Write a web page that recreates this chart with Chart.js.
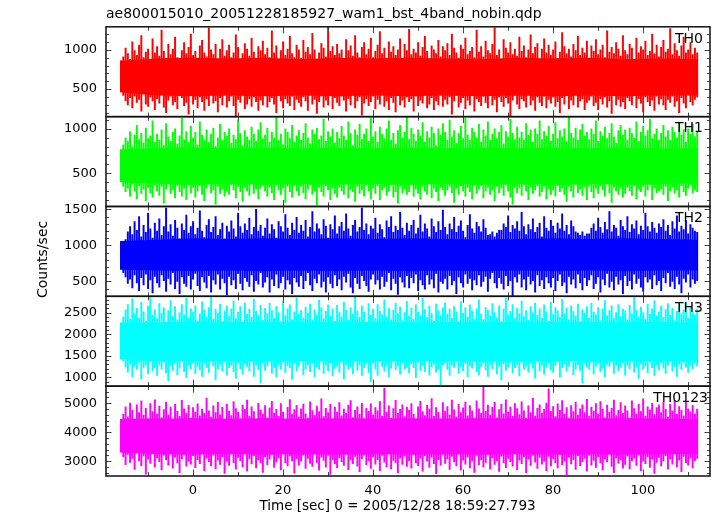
<!DOCTYPE html>
<html>
<head>
<meta charset="utf-8">
<title>ae800015010 wam1 bst 4band light curve</title>
<script src="https://cdn.jsdelivr.net/npm/chart.js@4.4.1/dist/chart.umd.min.js"></script>
<style>
  html, body { margin: 0; padding: 0; background: #fff; }
</style>
</head>
<body>
<canvas id="lc" width="717" height="516"></canvas>
<script>
const plotTitle = 'ae800015010_20051228185927_wam1_bst_4band_nobin.qdp';
const xTitle = 'Time [sec] 0 = 2005/12/28 18:59:27.793';
const yTitle = 'Counts/sec';
const timeTicks = [0, 20, 40, 60, 80, 100];

const bands = ['TH0', 'TH1', 'TH2', 'TH3', 'TH0123'];
const bandColors = ['#ff0000', '#00ff00', '#0000ff', '#00ffff', '#ff00ff'];

// light curve read as the highest and lowest rate in each 0.5 s column,
// first column starting at t = -16.2 s
const startTime = -16.2;
const sampleStep = 0.5;

const th0Hi = [
  860, 910, 1020, 950, 880, 1100, 990, 930, 1060, 1180, 900, 970, 1010, 870, 1140, 960,
  1040, 920, 1250, 980, 890, 1070, 940, 1010, 1160, 900, 850, 990, 1090, 950, 1030, 1200,
  930, 980, 880, 1050, 1120, 960, 910, 1280, 1000, 940, 1070, 870, 1010, 1130, 920, 990,
  1060, 900, 960, 1190, 1030, 880, 950, 1080, 1010, 920, 1150, 970, 860, 1040, 990, 1110,
  940, 1020, 900, 1240, 960, 1050, 880, 990, 1100, 930, 1010, 1170, 950, 900, 1060, 1000,
  890, 1120, 970, 1030, 940, 1210, 1000, 880, 960, 1080, 1020, 910, 1290, 980, 1040, 930,
  1070, 950, 1000, 870, 1130, 990, 1050, 920, 1180, 960, 900, 1030, 1090, 940, 1010, 1150,
  900, 980, 1060, 1230, 950, 1020, 890, 1100, 970, 1040, 930, 1000, 1140, 880, 1070, 990,
  1260, 940, 1010, 960, 1090, 920, 1030, 1170, 980, 870, 1050, 1000, 950, 1120, 910, 1040,
  990, 1080, 930, 1200, 1020, 960, 890, 1060, 1010, 1150, 940, 980, 1030, 900, 1250, 970,
  1040, 910, 1110, 990, 950, 1070, 1280, 930, 1000, 880, 1130, 1020, 960, 1090, 940, 1010,
  920, 1160, 980, 1050, 900, 1000, 1190, 950, 1030, 1080, 870, 1010, 1140, 960, 1060, 930,
  1000, 1100, 890, 970, 1220, 1040, 950, 1010, 910, 1070, 990, 1170, 930, 1020, 960, 1110,
  880, 1050, 980, 1130, 940, 1000, 1060, 900, 1240, 970, 1030, 950, 1090, 1010, 920, 1180,
  990, 940, 1070, 1020, 880, 1150, 960, 1040, 1000, 1110, 930, 980, 1200, 950, 1060, 910,
  1030, 1120, 970, 1010, 1270, 940, 1080, 990, 920, 1050, 1160, 960, 1000, 1090, 940, 1020,
  960
];
const th0Lo = [
  480, 420, 350, 300, 390, 260, 410, 330, 370, 220, 440, 310, 280, 400, 350, 240,
  380, 320, 430, 270, 200, 360, 410, 300, 340, 250, 450, 390, 290, 330, 180, 420,
  310, 370, 260, 400, 340, 230, 380, 290, 430, 320, 350, 210, 390, 300, 440, 270,
  350, 410, 290, 160, 370, 330, 420, 250, 310, 380, 280, 400, 340, 230, 360, 300,
  420, 270, 340, 390, 310, 200, 440, 350, 260, 380, 320, 290, 410, 240, 370, 330,
  280, 400, 350, 230, 430, 310, 370, 190, 340, 410, 270, 360, 300, 420, 250, 390,
  330, 290, 410, 360, 220, 380, 300, 440, 260, 350, 400, 170, 320, 380, 290, 340,
  410, 250, 370, 310, 430, 280, 350, 240, 390, 330, 210, 420, 300, 360, 270, 400,
  340, 380, 220, 410, 290, 360, 320, 430, 260, 310, 390, 240, 350, 300, 440, 280,
  370, 310, 400, 180, 350, 420, 270, 330, 390, 250, 360, 300, 430, 220, 380, 340,
  290, 410, 330, 260, 440, 300, 370, 210, 400, 340, 280, 390, 320, 150, 360, 420,
  310, 250, 380, 350, 270, 430, 300, 360, 230, 400, 330, 290, 410, 260, 370, 320,
  400, 280, 340, 200, 390, 310, 420, 250, 360, 300, 430, 270, 350, 380, 240, 330,
  360, 410, 290, 330, 240, 380, 310, 400, 270, 350, 190, 420, 300, 370, 280, 340,
  250, 390, 350, 300, 420, 260, 380, 320, 210, 400, 340, 290, 360, 230, 410, 310,
  380, 300, 240, 370, 330, 410, 280, 350, 200, 390, 320, 260, 430, 340, 300, 370,
  400
];

const th1Hi = [
  760, 820, 900, 860, 970, 800, 930, 1040, 880, 950, 840, 1010, 890, 920, 1090, 850,
  940, 870, 990, 810, 1060, 910, 860, 960, 1000, 830, 920, 1120, 880, 970, 850, 1030,
  900, 960, 820, 1080, 930, 870, 990, 850, 940, 1010, 800, 900, 1050, 870, 960, 920,
  1000, 840, 930, 880, 1100, 950, 810, 980, 910, 870, 1020, 940, 860, 990, 1070, 890,
  930, 1010, 850, 960, 900, 1130, 870, 940, 820, 1000, 960, 890, 1040, 850, 920, 980,
  870, 950, 1060, 900, 830, 990, 940, 1010, 880, 920, 1110, 860, 970, 910, 1000, 840,
  960, 890, 1030, 920, 870, 1080, 950, 810, 990, 930, 1050, 880, 940, 1000, 860, 1120,
  910, 970, 850, 1020, 940, 890, 1000, 1090, 870, 950, 830, 980, 1040, 900, 960, 1130,
  880, 1010, 940, 860, 990, 920, 1070, 850, 970, 900, 1020, 950, 810, 1000, 930, 1060,
  960, 870, 1100, 910, 980, 840, 950, 1030, 890, 1120, 930, 870, 1010, 960, 900, 1050,
  850, 990, 920, 1080, 870, 940, 1000, 890, 960, 1040, 830, 970, 910, 1110, 950, 880,
  1020, 900, 960, 870, 1060, 930, 990, 850, 1000, 940, 1090, 880, 970, 920, 1030, 860,
  940, 1070, 890, 980, 910, 1000, 860, 1130, 950, 900, 1010, 870, 990, 1050, 920, 960,
  880, 1000, 940, 1090, 860, 970, 920, 1020, 890, 950, 1060, 910, 840, 980, 1040, 930,
  990, 870, 1010, 950, 900, 1080, 860, 960, 1030, 920, 980, 1110, 890, 940, 1000, 870,
  950, 1040, 910, 980, 870, 1020, 960, 900, 1070, 930, 990, 850, 1000, 940, 1050, 910,
  960
];
const th1Lo = [
  420, 350, 290, 330, 240, 380, 300, 210, 360, 270, 320, 190, 340, 280, 230, 370,
  300, 250, 350, 160, 320, 380, 270, 310, 220, 360, 290, 240, 330, 200, 370, 280,
  340, 230, 300, 360, 260, 190, 330, 380, 280, 310, 150, 350, 270, 320, 240, 300,
  260, 370, 310, 220, 350, 290, 180, 340, 300, 250, 380, 270, 320, 210, 330, 360,
  300, 240, 340, 280, 200, 370, 310, 260, 330, 170, 350, 290, 230, 360, 300, 250,
  350, 280, 210, 320, 370, 260, 300, 140, 340, 290, 240, 360, 310, 200, 330, 270,
  230, 340, 300, 260, 380, 220, 320, 290, 180, 350, 270, 310, 240, 370, 300, 210,
  330, 270, 360, 200, 310, 340, 250, 300, 370, 230, 290, 160, 350, 280, 320, 260,
  290, 370, 240, 320, 270, 210, 350, 300, 260, 380, 220, 330, 290, 190, 340, 310,
  250, 310, 350, 280, 170, 330, 260, 360, 300, 240, 340, 290, 210, 370, 270, 320,
  360, 220, 300, 340, 260, 310, 190, 350, 280, 330, 250, 370, 300, 230, 150, 340,
  280, 330, 250, 370, 300, 200, 340, 270, 310, 360, 240, 290, 350, 210, 320, 260,
  310, 240, 360, 290, 330, 260, 180, 350, 300, 230, 370, 280, 320, 250, 340, 200,
  350, 290, 220, 330, 270, 360, 310, 240, 380, 280, 170, 340, 300, 260, 330, 230,
  270, 340, 300, 250, 360, 210, 320, 290, 350, 240, 310, 370, 200, 330, 280, 300,
  320, 260, 350, 190, 300, 340, 270, 310, 230, 360, 290, 250, 330, 370, 280, 310,
  290
];

const th2Hi = [
  1000, 1050, 1080, 1190, 1260, 1150, 1330, 1210, 1400, 1120, 1280, 1180, 1450, 1230, 1100, 1310,
  1200, 1370, 1140, 1260, 1520, 1190, 1290, 1130, 1350, 1240, 1090, 1300, 1210, 1420, 1170, 1260,
  1330, 1150, 1240, 1480, 1200, 1110, 1280, 1360, 1180, 1250, 1400, 1140, 1220, 1310, 1090, 1270,
  1190, 1340, 1230, 1120, 1450, 1260, 1170, 1300, 1210, 1380, 1150, 1250, 1500, 1200, 1280, 1130,
  1240, 1370, 1160, 1290, 1220, 1100, 1330, 1260, 1190, 1430, 1240, 1140, 1310, 1210, 1390, 1170,
  1280, 1200, 1350, 1120, 1250, 1470, 1190, 1300, 1230, 1150, 1360, 1270, 1100, 1290, 1220, 1410,
  1160, 1260, 1320, 1200, 1440, 1230, 1130, 1280, 1350, 1190, 1250, 1520, 1210, 1300, 1150, 1270,
  1230, 1380, 1170, 1290, 1220, 1110, 1340, 1250, 1400, 1180, 1270, 1210, 1460, 1240, 1140, 1310,
  1200, 1280, 1350, 1160, 1240, 1420, 1190, 1300, 1230, 1120, 1370, 1260, 1180, 1330, 1210, 1490,
  1250, 1150, 1300, 1220, 1390, 1180, 1270, 1340, 1200, 1110, 1280, 1430, 1230, 1170, 1320, 1260,
  1190, 1360, 1240, 1140, 1150, 1190, 1120, 1170, 1210, 1210, 1300, 1250, 1410, 1180, 1280, 1230,
  1330, 1200, 1460, 1260, 1150, 1290, 1220, 1370, 1180, 1250, 1310, 1120, 1400, 1240, 1200, 1350,
  1270, 1170, 1310, 1230, 1440, 1200, 1280, 1150, 1340, 1260, 1190, 1170, 1140, 1190, 1130, 1160,
  1160, 1240, 1300, 1200, 1380, 1250, 1170, 1320, 1220, 1470, 1190, 1280, 1240, 1130, 1350, 1260,
  1210, 1400, 1180, 1290, 1230, 1340, 1150, 1270, 1210, 1450, 1260, 1190, 1320, 1240, 1170, 1300,
  1250, 1360, 1200, 1280, 1140, 1330, 1230, 1410, 1190, 1270, 1220, 1350, 1160, 1290, 1240, 1200,
  1180
];
const th2Lo = [
  680, 620, 560, 470, 530, 410, 590, 480, 370, 550, 450, 600, 400, 520, 340, 570,
  480, 420, 590, 510, 360, 540, 460, 620, 400, 500, 330, 560, 470, 430, 580, 390,
  530, 610, 440, 370, 560, 490, 410, 580, 350, 520, 460, 600, 390, 540, 480, 310,
  570, 450, 520, 400, 610, 470, 380, 550, 500, 430, 590, 360, 510, 460, 620, 420,
  490, 560, 350, 530, 440, 600, 410, 480, 570, 390, 520, 460, 330, 550, 490, 430,
  580, 400, 510, 620, 450, 370, 540, 480, 600, 420, 500, 350, 560, 470, 410, 590,
  440, 530, 380, 570, 490, 610, 420, 340, 550, 470, 400, 580, 510, 440, 360, 530,
  600, 460, 520, 390, 570, 430, 500, 620, 380, 540, 470, 320, 560, 490, 420, 580,
  410, 550, 480, 600, 370, 520, 450, 390, 590, 460, 530, 410, 610, 350, 500, 470,
  540, 390, 580, 450, 510, 330, 560, 480, 420, 600, 470, 540, 380, 520, 450, 590,
  430, 500, 570, 360, 540, 620, 480, 410, 550, 470, 390, 580, 440, 510, 300, 560,
  490, 600, 420, 530, 380, 570, 460, 510, 350, 590, 440, 520, 400, 560, 480, 420,
  550, 370, 510, 600, 440, 490, 340, 570, 460, 530, 410, 600, 480, 380, 550, 440,
  520, 590, 400, 470, 560, 350, 530, 450, 610, 420, 500, 380, 570, 460, 520, 330,
  580, 440, 510, 390, 600, 470, 540, 420, 360, 560, 490, 530, 400, 590, 450, 510,
  370, 550, 480, 620, 430, 500, 400, 570, 460, 340, 540, 490, 600, 420, 530, 470,
  510
];

const th3Hi = [
  2250, 2400, 2560, 2690, 2350, 2820, 2480, 2600, 2380, 2740, 2520, 2300, 2650, 2850, 2440, 2570,
  2360, 2710, 2490, 2610, 2280, 2550, 2780, 2420, 2640, 2340, 2500, 2690, 2450, 2830, 2380, 2590,
  2520, 2660, 2310, 2470, 2750, 2560, 2400, 2620, 2850, 2350, 2580, 2490, 2700, 2300, 2540, 2660,
  2420, 2590, 2770, 2360, 2510, 2640, 2280, 2730, 2460, 2580, 2390, 2810, 2530, 2440, 2670, 2330,
  2600, 2480, 2720, 2550, 2370, 2640, 2500, 2290, 2760, 2430, 2590, 2680, 2340, 2520, 2840, 2460,
  2550, 2380, 2630, 2490, 2700, 2320, 2570, 2450, 2790, 2610, 2360, 2530, 2680, 2420, 2590, 2300,
  2670, 2500, 2400, 2740, 2560, 2330, 2620, 2470, 2860, 2540, 2390, 2650, 2510, 2280, 2710, 2440,
  2580, 2360, 2690, 2530, 2450, 2800, 2400, 2600, 2340, 2560, 2720, 2480, 2630, 2310, 2500, 2760,
  2420, 2600, 2350, 2680, 2510, 2440, 2830, 2570, 2390, 2650, 2480, 2300, 2700, 2550, 2430, 2620,
  2730, 2460, 2580, 2370, 2640, 2520, 2290, 2750, 2490, 2610, 2400, 2680, 2540, 2350, 2590, 2800,
  2470, 2340, 2620, 2560, 2420, 2710, 2500, 2380, 2660, 2290, 2580, 2840, 2450, 2530, 2690, 2360,
  2600, 2480, 2770, 2410, 2550, 2320, 2640, 2500, 2720, 2440, 2590, 2370, 2680, 2520, 2300, 2740,
  2460, 2620, 2540, 2390, 2810, 2480, 2600, 2340, 2660, 2530, 2420, 2700, 2290, 2570, 2490, 2640,
  2380, 2720, 2510, 2450, 2620, 2310, 2590, 2780, 2430, 2550, 2660, 2360, 2500, 2690, 2410, 2580,
  2540, 2330, 2670, 2470, 2850, 2560, 2400, 2630, 2500, 2350, 2700, 2460, 2590, 2780, 2420, 2520,
  2650, 2390, 2570, 2710, 2440, 2600, 2310, 2530, 2680, 2480, 2560, 2740, 2370, 2620, 2500, 2450,
  2580
];
const th3Lo = [
  1520, 1380, 1240, 1120, 1310, 1010, 1260, 1180, 1350, 960, 1230, 1290, 1080, 1370, 1150, 1220,
  1040, 1300, 1190, 1350, 1100, 920, 1270, 1160, 1330, 1060, 1210, 1390, 1130, 990, 1280, 1200,
  1340, 1090, 1250, 1170, 1020, 1320, 1230, 1110, 1380, 1260, 940, 1190, 1300, 1140, 1360, 1050,
  1220, 1290, 1130, 980, 1340, 1200, 1070, 1310, 1250, 1150, 1380, 1020, 1280, 1180, 870, 1330,
  1160, 1260, 1390, 1090, 1230, 1000, 1300, 1190, 1350, 1110, 1270, 1220, 950, 1320, 1140, 1250,
  1370, 1060, 1200, 1290, 1130, 1340, 1010, 1240, 1180, 1400, 1090, 1280, 1150, 1330, 1030, 1210,
  1260, 1120, 1350, 960, 1300, 1190, 1240, 1080, 1370, 1160, 1290, 1040, 1230, 1330, 1110, 900,
  1320, 1200, 1050, 1360, 1250, 1140, 1290, 1010, 1210, 1380, 1170, 1260, 1070, 1340, 1190, 1230,
  1100, 1310, 1220, 990, 1350, 1160, 1270, 1130, 1390, 1050, 1240, 1300, 1120, 1200, 820, 1280,
  1340, 1180, 1040, 1290, 1230, 1370, 1090, 1250, 1150, 1320, 1010, 1270, 1210, 1360, 1130, 1060,
  1240, 1330, 1170, 1020, 1300, 1200, 1380, 1080, 1260, 940, 1310, 1160, 1240, 1350, 1100, 1220,
  1290, 1030, 1350, 1190, 1260, 1120, 1320, 1210, 980, 1370, 1150, 1280, 1070, 1230, 1340, 1170,
  1110, 1270, 1360, 1000, 1220, 1310, 1140, 1250, 1390, 1060, 1200, 1290, 1160, 860, 1330, 1240,
  1180, 1350, 1080, 1260, 1320, 1130, 1210, 1010, 1300, 1250, 1370, 1090, 1280, 1150, 1230, 1340,
  1050, 1270, 1200, 1380, 1120, 1240, 970, 1310, 1190, 1260, 1100, 1350, 1220, 1040, 1290, 1170,
  1330, 1210, 1090, 1280, 1360, 1150, 1250, 1020, 1300, 1180, 1340, 1230, 1110, 1270, 1200, 1320,
  1260
];

const th0123Hi = [
  4450, 4620, 4880, 4530, 5010, 4760, 4420, 4950, 4680, 5080, 4590, 4830, 4470, 4990, 4710, 5120,
  4640, 4900, 4510, 4780, 5040, 4600, 4870, 4430, 4960, 4720, 4550, 5100, 4810, 4660, 4930, 4490,
  4850, 4700, 4980, 4570, 4800, 4650, 5180, 4740, 4520, 4910, 4680, 5030, 4600, 4860, 4440, 4970,
  4730, 4580, 5060, 4820, 4690, 4460, 4940, 4790, 5110, 4560, 4880, 4710, 4420, 5000, 4770, 4630,
  4920, 4500, 4840, 5070, 4660, 4790, 4550, 4990, 4700, 4450, 4860, 5130, 4620, 4780, 4930, 4520,
  4810, 4970, 4640, 4480, 5050, 4750, 4590, 4900, 4710, 5150, 4540, 4830, 4680, 4960, 4430, 4870,
  4690, 5020, 4570, 4800, 4650, 4940, 5090, 4510, 4760, 4880, 4620, 5000, 4470, 4830, 4720, 4980,
  4600, 4850, 4740, 5060, 4560, 5520, 4700, 4910, 4480, 4820, 5100, 4650, 4790, 4950, 4530, 4870,
  4760, 4990, 4620, 4440, 4880, 5070, 4710, 4580, 4930, 4800, 5160, 4550, 4850, 4690, 4460, 5020,
  4730, 4890, 4600, 5110, 4770, 4520, 4960, 4680, 4840, 5040, 4570, 4920, 4740, 4490, 5080, 4810,
  4650, 5560, 4720, 4940, 4590, 4860, 5030, 4500, 4780, 4960, 4640, 5120, 4700, 4870, 4550, 4990,
  4820, 4610, 5050, 4740, 4480, 4910, 4680, 5170, 4570, 4830, 4950, 4660, 4790, 5010, 5500, 4720,
  4890, 4540, 4980, 4760, 5090, 4630, 4850, 4470, 4920, 4710, 5040, 4590, 4810, 4950, 4680, 5140,
  4560, 4870, 4730, 4990, 4620, 5060, 4800, 4500, 4940, 4690, 4830, 5110, 4580, 4760, 5020, 4650,
  4910, 4740, 4490, 5080, 4820, 4640, 4970, 4710, 5150, 4560, 4880, 4770, 5000, 4610, 4850, 4950,
  4680, 5030, 4790, 4520, 4960, 4730, 5100, 4620, 4890, 4760, 4570, 5040, 4810, 4700, 4930, 4640,
  4800
];
const th0123Lo = [
  3420, 3150, 2880, 3240, 2960, 3100, 2720, 3290, 3010, 2850, 3180, 2560, 3070, 2930, 3260, 2800,
  3120, 2990, 2700, 3210, 3050, 2870, 3300, 2760, 3140, 2940, 2610, 3080, 3230, 2830, 3000, 2900,
  3190, 2780, 3060, 2920, 3270, 2680, 3110, 2990, 2840, 3220, 2740, 3040, 2890, 3160, 2580, 3000,
  2860, 3250, 2950, 2730, 3130, 3020, 2810, 3280, 2670, 3080, 2910, 3190, 2770, 3050, 2950, 2620,
  3160, 2880, 3070, 3230, 2790, 2980, 3120, 2700, 3260, 2940, 2840, 3180, 3010, 2590, 3090, 2870,
  3000, 3210, 2750, 3100, 2930, 2820, 3250, 2960, 2690, 3140, 3030, 2800, 3200, 2550, 3060, 2910,
  2780, 3120, 2990, 2860, 3240, 2710, 3050, 2920, 3170, 2830, 2640, 3090, 3220, 2880, 3010, 2750,
  3150, 2900, 3060, 2680, 3200, 2970, 2810, 3270, 2740, 3030, 2950, 2600, 3110, 2890, 3180, 2820,
  3020, 2760, 3230, 2940, 2850, 3100, 2660, 3190, 3000, 2790, 3130, 2920, 2570, 3060, 2870, 3240,
  2930, 3080, 2720, 3170, 2980, 2840, 3250, 2690, 3040, 2900, 3150, 2770, 3010, 2620, 3200, 2880,
  3060, 2800, 2960, 3230, 2730, 3120, 2890, 3020, 2650, 3180, 2950, 2780, 3100, 2990, 2830, 3260,
  2710, 3040, 2920, 3150, 2600, 3070, 2860, 3210, 2970, 2750, 3130, 2900, 3000, 2680, 3170, 2840,
  3090, 2950, 2770, 3230, 2880, 3010, 2540, 3140, 2910, 3060, 2720, 3190, 2850, 2990, 3100, 2660,
  3200, 2870, 3030, 2790, 3160, 2940, 2700, 3080, 2980, 3240, 2820, 2610, 3120, 2930, 3050, 2760,
  2890, 3180, 2740, 3020, 3110, 2860, 3220, 2680, 3000, 2920, 3150, 2790, 3070, 2580, 2960, 3130,
  2840, 3010, 3190, 2730, 3080, 2900, 3250, 2810, 3040, 2640, 3170, 2950, 2870, 3110, 2770, 3020,
  3100
];

// solid core of each band: rates that every column covers
const coreTime = [-16.2, -8, 0, 8, 16, 24, 32, 40, 48, 56, 64, 72, 80, 88, 96, 104, 112.2];
const th0CoreHi = [860, 890, 900, 890, 900, 880, 900, 890, 900, 890, 880, 900, 890, 900, 880, 890, 880];
const th0CoreLo = [460, 420, 410, 420, 410, 420, 410, 420, 410, 420, 410, 420, 410, 420, 410, 420, 420];
const th1CoreHi = [770, 780, 790, 780, 790, 780, 790, 780, 790, 780, 790, 780, 790, 780, 790, 780, 780];
const th1CoreLo = [400, 380, 370, 380, 370, 380, 370, 380, 370, 380, 370, 380, 370, 380, 370, 380, 380];
const th2CoreHi = [1060, 1080, 1100, 1090, 1100, 1090, 1100, 1090, 1100, 1090, 1080, 1090, 1100, 1090, 1100, 1090, 1080];
const th2CoreLo = [660, 650, 640, 650, 640, 650, 640, 650, 640, 650, 640, 650, 640, 650, 640, 650, 650];
const th3CoreHi = [2270, 2270, 2290, 2280, 2290, 2280, 2290, 2280, 2290, 2280, 2290, 2280, 2290, 2280, 2290, 2280, 2270];
const th3CoreLo = [1420, 1380, 1370, 1380, 1370, 1380, 1370, 1380, 1370, 1380, 1370, 1380, 1370, 1380, 1370, 1380, 1390];
const th0123CoreHi = [4460, 4470, 4480, 4470, 4480, 4470, 4480, 4470, 4480, 4470, 4480, 4470, 4480, 4470, 4480, 4470, 4460];
const th0123CoreLo = [3300, 3240, 3230, 3240, 3230, 3240, 3230, 3240, 3230, 3240, 3230, 3240, 3230, 3240, 3230, 3240, 3250];

// axis ranges and labelled ticks of each panel
const yMin = [150, 124, 292, 793, 2493];
const yMax = [1292, 1138, 1541, 2879, 5590];
const yTicks = [[500, 1000], [500, 1000], [500, 1000, 1500], [1000, 1500, 2000, 2500], [3000, 4000, 5000]];
const yMinorStep = [100, 100, 100, 100, 200];

const hiSeries = [th0Hi, th1Hi, th2Hi, th3Hi, th0123Hi];
const loSeries = [th0Lo, th1Lo, th2Lo, th3Lo, th0123Lo];
const coreHiSeries = [th0CoreHi, th1CoreHi, th2CoreHi, th3CoreHi, th0123CoreHi];
const coreLoSeries = [th0CoreLo, th1CoreLo, th2CoreLo, th3CoreLo, th0123CoreLo];

Chart.defaults.font.family = '"DejaVu Sans", sans-serif';
Chart.defaults.color = '#000';

const datasets = [];
const scales = {
  x: {
    type: 'linear', position: 'bottom', min: -19.3, max: 114.9, offset: false,
    grid: { display: false, drawTicks: false }, border: { display: false },
    ticks: { padding: 7, font: { size: 13 }, maxRotation: 0, autoSkip: false, callback: v => String(v) },
    afterBuildTicks: s => { s.ticks = timeTicks.map(v => ({ value: v })); },
    afterFit: s => { s.height = 40; }
  }
};

bands.forEach((name, i) => {
  const yID = 'y' + i;
  // one thin floating bar per column, from its lowest to its highest rate
  const columns = hiSeries[i].map((v, k) => ({
    x: startTime + (k + 0.5) * sampleStep,
    y: [loSeries[i][k], v]
  }));
  datasets.push({
    label: name, data: columns, yAxisID: yID,
    backgroundColor: bandColors[i], borderWidth: 0,
    barThickness: 1.3, grouped: false
  });
  datasets.push({
    type: 'line', label: name + ' core', yAxisID: yID,
    data: coreTime.map((t, k) => ({ x: t, y: coreHiSeries[i][k] })),
    borderColor: 'transparent', borderWidth: 0, pointRadius: 0,
    backgroundColor: bandColors[i], fill: '+1'
  });
  datasets.push({
    type: 'line', label: name + ' core low', yAxisID: yID,
    data: coreTime.map((t, k) => ({ x: t, y: coreLoSeries[i][k] })),
    borderColor: 'transparent', borderWidth: 0, pointRadius: 0, fill: false
  });

  scales[yID] = {
    type: 'linear', position: 'left', stack: 'panels', stackWeight: 1, weight: bands.length - i,
    min: yMin[i], max: yMax[i],
    grid: { display: false, drawTicks: false }, border: { display: false },
    ticks: { padding: 9, font: { size: 13 }, autoSkip: false, callback: v => String(v) },
    afterBuildTicks: s => { s.ticks = yTicks[i].map(v => ({ value: v })); },
    afterFit: s => { s.width = 106; }
  };
});

// qdp style frame: inward ticks on every side, panel names, axis titles
const panelFrame = {
  id: 'panelFrame',
  afterDraw(chart) {
    const ctx = chart.ctx;
    const xs = chart.scales.x;
    const { left, right } = chart.chartArea;
    ctx.save();
    bands.forEach((name, i) => {
      const s = chart.scales['y' + i];
      const top = s.top, bottom = s.bottom;
      ctx.strokeStyle = '#444';
      ctx.lineWidth = 1;
      ctx.beginPath();
      const step = yMinorStep[i];
      for (let v = Math.ceil(s.min / step) * step; v <= s.max; v += step) {
        const y = Math.round(s.getPixelForValue(v)) + 0.5;
        const len = yTicks[i].includes(v) ? 5.5 : 3;
        ctx.moveTo(left, y); ctx.lineTo(left + len, y);
        ctx.moveTo(right, y); ctx.lineTo(right - len, y);
      }
      for (let t = -10; t <= 110; t += 10) {
        const x = Math.round(xs.getPixelForValue(t)) + 0.5;
        const len = t % 20 === 0 ? 6.5 : 4;
        ctx.moveTo(x, top); ctx.lineTo(x, top + len);
        ctx.moveTo(x, bottom); ctx.lineTo(x, bottom - len);
      }
      ctx.stroke();
      ctx.strokeStyle = '#111';
      ctx.lineWidth = 1.5;
      ctx.strokeRect(left, top, right - left, bottom - top);

      ctx.fillStyle = '#000';
      ctx.font = '14px "DejaVu Sans"';
      ctx.textAlign = 'right';
      ctx.textBaseline = 'alphabetic';
      ctx.fillText(name, i === bands.length - 1 ? right - 2 : right - 7, top + 15.8);
    });

    ctx.font = '13.5px "DejaVu Sans"';
    ctx.textAlign = 'center';
    ctx.fillText(xTitle, (left + right) / 2 - 10.5, chart.height - 6);

    const mid = (chart.chartArea.top + chart.chartArea.bottom) / 2 + 8;
    ctx.translate(46.5, mid);
    ctx.rotate(-Math.PI / 2);
    ctx.font = '14px "DejaVu Sans"';
    ctx.fillText(yTitle, 0, 0);
    ctx.restore();
  }
};

new Chart(document.getElementById('lc'), {
  type: 'bar',
  data: { datasets },
  options: {
    responsive: false,
    animation: false,
    events: [],
    layout: { padding: { left: 0, right: 7, top: 0, bottom: 0 } },
    scales,
    plugins: {
      legend: { display: false },
      tooltip: { enabled: false },
      title: {
        display: true, text: plotTitle, align: 'start', fullSize: false,
        font: { size: 14, weight: 'normal' }, padding: { top: 6, bottom: 4 }
      }
    }
  },
  plugins: [panelFrame]
});
</script>
</body>
</html>
